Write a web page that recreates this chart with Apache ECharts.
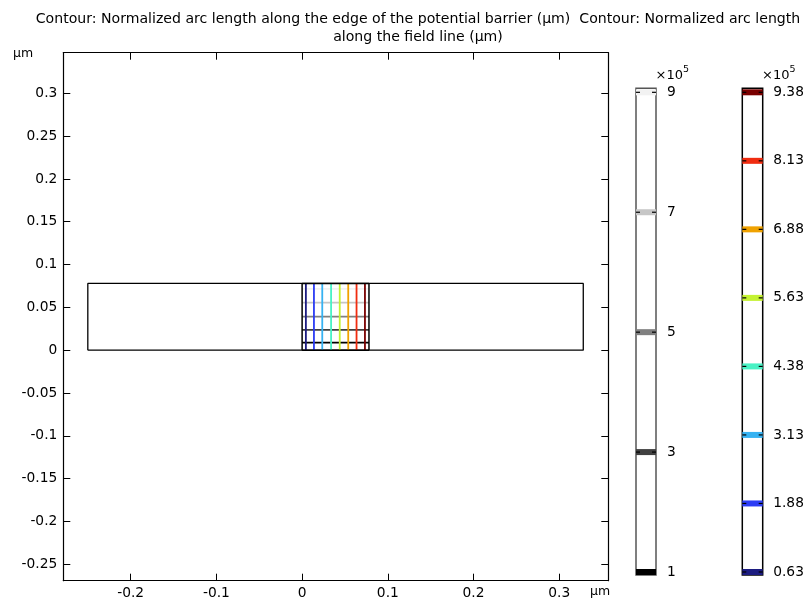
<!DOCTYPE html>
<html>
<head>
<meta charset="utf-8">
<title>Contour: Normalized arc length</title>
<script src="https://cdn.jsdelivr.net/npm/echarts@6/dist/echarts.min.js"></script>
<style>
html, body { margin: 0; padding: 0; background: #fff; }
#main { width: 803px; height: 604px; }
</style>
</head>
<body>
<div id="main"></div>
<script>
var xTicks = [-0.2, -0.1, 0, 0.1, 0.2, 0.3];
var yTicks = [0.3, 0.25, 0.2, 0.15, 0.1, 0.05, 0, -0.05, -0.1, -0.15, -0.2, -0.25];

// geometry (um)
var domainX = [-0.25, 0.328];
var domainY = [0, 0.078];
var squareX = [0, 0.078];

// contour: arc length along the edge of the potential barrier (x1e5)
var barrierLevels = [1, 3, 5, 7, 9];
var barrierPos = [0.0088, 0.0236, 0.0391, 0.0555, 0.0715];
var barrierColors = ['#000000', '#404040', '#808080', '#c6c6c6', '#f2f2f2'];

// contour: arc length along the field line (x1e5)
var fieldLevels = [0.63, 1.88, 3.13, 4.38, 5.63, 6.88, 8.13, 9.38];
var fieldPos = [0.0044, 0.0138, 0.0235, 0.0338, 0.0439, 0.0538, 0.0635, 0.0733];
var fieldColors = ['#1c1c80', '#2c3cf4', '#36b2f2', '#48f2c4', '#c4f232', '#f0a200', '#f02c10', '#7a0000'];

var font = 'DejaVu Sans';
var fs = 13.8;

function lineSeries(data, color, width) {
    return {
        type: 'line',
        xAxisIndex: 0,
        yAxisIndex: 0,
        data: data,
        symbol: 'none',
        silent: true,
        lineStyle: { color: color, width: width }
    };
}

function bandRender(colors) {
    return function (params, api) {
        var lv = api.value(1);
        var p0 = api.coord([0, lv]);
        var p1 = api.coord([1, lv]);
        var h = 6;
        return {
            type: 'group',
            children: [
                { type: 'rect', shape: { x: p0[0], y: p0[1] - h / 2, width: p1[0] - p0[0], height: h }, style: { fill: colors[params.dataIndex] } },
                { type: 'line', shape: { x1: p0[0], y1: p0[1], x2: p0[0] + 4, y2: p0[1] }, style: { stroke: '#000', lineWidth: 1.2 } },
                { type: 'line', shape: { x1: p1[0] - 4, y1: p1[1], x2: p1[0], y2: p1[1] }, style: { stroke: '#000', lineWidth: 1.2 } }
            ]
        };
    };
}

var series = [];
series.push(lineSeries([
    [domainX[0], domainY[0]], [domainX[1], domainY[0]], [domainX[1], domainY[1]],
    [domainX[0], domainY[1]], [domainX[0], domainY[0]]
], '#000', 1.3));
barrierPos.forEach(function (y, i) {
    series.push(lineSeries([[squareX[0], y], [squareX[1], y]], barrierColors[i], 1.8));
});
fieldPos.forEach(function (x, i) {
    series.push(lineSeries([[x, domainY[0]], [x, domainY[1]]], fieldColors[i], 1.8));
});
squareX.forEach(function (x) {
    series.push(lineSeries([[x, domainY[0]], [x, domainY[1]]], '#000', 1.5));
});
series.push(lineSeries([[squareX[0], domainY[0]], [squareX[1], domainY[0]]], '#000', 1.5));
series.push(lineSeries([[squareX[0], domainY[1]], [squareX[1], domainY[1]]], '#000', 1.5));

series.push({
    type: 'custom',
    xAxisIndex: 2,
    yAxisIndex: 2,
    data: barrierLevels.map(function (v) { return [0, v]; }),
    renderItem: bandRender(barrierColors),
    silent: true
});
series.push({
    type: 'custom',
    xAxisIndex: 3,
    yAxisIndex: 3,
    data: fieldLevels.map(function (v) { return [0, v]; }),
    renderItem: bandRender(fieldColors),
    silent: true
});

var labelStyle = { color: '#000', fontFamily: font, fontSize: fs };
var axisLine = { show: true, onZero: false, lineStyle: { color: '#000', width: 1.2 } };

function mainTick(values) {
    return { show: true, inside: true, length: 7, customValues: values, lineStyle: { color: '#000', width: 1 } };
}

function expLabel(x) {
    return {
        type: 'text', x: x, y: 65,
        style: {
            text: '{a|×10}{s|5}',
            rich: {
                a: { fontFamily: font, fontSize: 13, lineHeight: 17, fill: '#000', verticalAlign: 'bottom' },
                s: { fontFamily: font, fontSize: 9.5, lineHeight: 17, fill: '#000', verticalAlign: 'top' }
            }
        }
    };
}

var option = {
    animation: false,
    backgroundColor: '#fff',
    grid: [
        { left: 63.3, top: 52.7, width: 545, height: 528, outerBoundsMode: 'none' },
        { left: 636, top: 88.3, width: 20, height: 486.7, outerBoundsMode: 'none', show: true, borderColor: '#555', borderWidth: 1.5, backgroundColor: 'transparent' },
        { left: 742.3, top: 88.3, width: 20.4, height: 486.7, outerBoundsMode: 'none', show: true, borderColor: '#000', borderWidth: 1.5, backgroundColor: 'transparent' }
    ],
    xAxis: [
        {
            type: 'value', gridIndex: 0, position: 'bottom', min: -0.2786, max: 0.3572,
            axisLine: axisLine, axisTick: mainTick(xTicks), splitLine: { show: false },
            axisLabel: Object.assign({ customValues: xTicks, margin: 6, formatter: function (v) { return String(v); } }, labelStyle)
        },
        {
            type: 'value', gridIndex: 0, position: 'top', min: -0.2786, max: 0.3572,
            axisLine: axisLine, axisTick: mainTick(xTicks), splitLine: { show: false },
            axisLabel: { show: false, customValues: xTicks }
        },
        { type: 'value', gridIndex: 1, min: 0, max: 1, show: false },
        { type: 'value', gridIndex: 2, min: 0, max: 1, show: false }
    ],
    yAxis: [
        {
            type: 'value', gridIndex: 0, position: 'left', min: -0.2692, max: 0.3474,
            axisLine: axisLine, axisTick: mainTick(yTicks), splitLine: { show: false },
            axisLabel: Object.assign({ customValues: yTicks, margin: 6, formatter: function (v) { return String(v); } }, labelStyle)
        },
        {
            type: 'value', gridIndex: 0, position: 'right', min: -0.2692, max: 0.3474,
            axisLine: axisLine, axisTick: mainTick(yTicks), splitLine: { show: false },
            axisLabel: { show: false, customValues: yTicks }
        },
        {
            type: 'value', gridIndex: 1, position: 'right', min: 0.95, max: 9.067,
            axisLine: { show: false }, axisTick: { show: false }, splitLine: { show: false },
            axisLabel: Object.assign({ customValues: barrierLevels, margin: 11, formatter: function (v) { return String(v); } }, labelStyle)
        },
        {
            type: 'value', gridIndex: 2, position: 'right', min: 0.575, max: 9.453,
            axisLine: { show: false }, axisTick: { show: false }, splitLine: { show: false },
            axisLabel: Object.assign({ customValues: fieldLevels, margin: 10.5, formatter: function (v) { return v.toFixed(2); } }, labelStyle)
        }
    ],
    graphic: [
        {
            type: 'text', x: 418, y: 10,
            style: {
                text: 'Contour: Normalized arc length along the edge of the potential barrier (µm)  Contour: Normalized arc length\nalong the field line (µm)',
                align: 'center', verticalAlign: 'top',
                fontFamily: font, fontSize: 14.1, lineHeight: 18, fill: '#000'
            }
        },
        { type: 'text', x: 13, y: 47, style: { text: 'µm', fontFamily: font, fontSize: 12.5, fill: '#000' } },
        { type: 'text', x: 590, y: 585, style: { text: 'µm', fontFamily: font, fontSize: 12.5, fill: '#000' } },
        expLabel(655.5),
        expLabel(762)
    ],
    series: series
};

var myChart = echarts.init(document.getElementById('main'), null, { renderer: 'canvas' });
myChart.setOption(option);
</script>
</body>
</html>
